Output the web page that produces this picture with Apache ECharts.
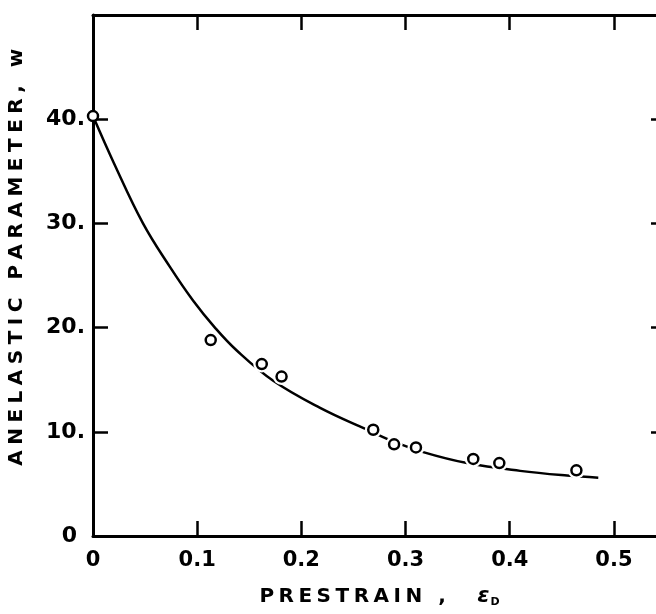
<!DOCTYPE html>
<html>
<head>
<meta charset="utf-8">
<script src="https://cdn.jsdelivr.net/npm/echarts@6/dist/echarts.min.js"></script>
<style>
  html, body { margin: 0; padding: 0; background: #fff; }
  #chart { width: 656px; height: 614px; }
</style>
</head>
<body>
<div id="chart"></div>
<script>
// measured points: prestrain vs anelastic parameter w
const prestrain = [0, 0.113, 0.162, 0.181, 0.269, 0.289, 0.310, 0.365, 0.390, 0.464];
const wValues = [40.3, 18.8, 16.5, 15.3, 10.2, 8.8, 8.5, 7.4, 7.0, 6.3];

// fitted curve
const curveX = [0, 0.02, 0.048, 0.074, 0.096, 0.117, 0.138, 0.173, 0.218, 0.263, 0.285, 0.317, 0.359, 0.41, 0.455, 0.485];
const curveW = [40.3, 35.8, 30.0, 25.8, 22.6, 20.0, 17.8, 14.9, 12.3, 10.2, 9.2, 8.05, 7.0, 6.25, 5.8, 5.6];

const yTicks = ['0', '10.', '20.', '30.', '40.'];
const xName = 'PRESTRAIN ,';
const yName = 'ANELASTIC PARAMETER, w';

const font = 'DejaVu Sans';

// spread letters out a bit (the lettering on the original is wide)
function spaced(str, style) {
  return str.split('').map(c => '{' + style + '|' + c + '}').join('');
}

const myChart = echarts.init(document.getElementById('chart'));

const axisLine = { show: true, onZero: false, lineStyle: { color: '#000', width: 3 } };
const axisTick = { show: true, inside: true, length: 15, lineStyle: { color: '#000', width: 2.5 } };

const points = prestrain.map((x, i) => [x, wValues[i]]);

const option = {
  animation: false,
  backgroundColor: '#fff',
  grid: { left: 93, right: -10, top: 15, bottom: 78, outerBoundsMode: 'none', containLabel: false },
  xAxis: [
    {
      type: 'value',
      min: 0,
      max: 0.55,
      interval: 0.1,
      axisLine: axisLine,
      axisTick: axisTick,
      splitLine: { show: false },
      axisLabel: {
        margin: 14,
        color: '#000',
        fontFamily: font,
        fontWeight: 'bold',
        fontSize: 21,
        formatter: v => (v > 0.52 ? '' : (v === 0 ? '0' : v.toFixed(1)))
      },
      name: spaced(xName, 'l') + '{g| }{e|ε}{s|D}',
      nameLocation: 'middle',
      nameGap: 49,
      nameTextStyle: {
        color: '#000',
        fontFamily: font,
        fontWeight: 'bold',
        fontSize: 20,
        rich: {
          l: { fontFamily: font, fontWeight: 'bold', fontSize: 20, color: '#000', padding: [0, 4.5, 0, 0] },
          g: { fontSize: 20, padding: [0, 20, 0, 0] },
          e: { fontFamily: font, fontStyle: 'italic', fontWeight: 'bold', fontSize: 22, color: '#000' },
          s: { fontFamily: font, fontWeight: 'bold', fontSize: 11, color: '#000', padding: [12, 0, 0, 1] }
        }
      }
    },
    {
      type: 'value',
      position: 'top',
      min: 0,
      max: 0.55,
      interval: 0.1,
      axisLine: axisLine,
      axisTick: axisTick,
      axisLabel: { show: false },
      splitLine: { show: false }
    }
  ],
  yAxis: [
    {
      type: 'value',
      min: 0,
      max: 50,
      interval: 10,
      axisLine: axisLine,
      axisTick: axisTick,
      splitLine: { show: false },
      axisLabel: {
        margin: 8,
        color: '#000',
        fontFamily: font,
        fontWeight: 'bold',
        fontSize: 22,
        formatter: function (v) {
          const s = yTicks[v / 10];
          if (s === undefined) return '';
          return v === 0 ? '{z|' + s + '}' : s;
        },
        rich: {
          z: { fontFamily: font, fontWeight: 'bold', fontSize: 22, color: '#000', padding: [0, 8, 0, 0] }
        }
      },
      name: spaced(yName, 'l'),
      nameLocation: 'middle',
      nameGap: 66,
      nameTextStyle: {
        color: '#000',
        fontFamily: font,
        fontWeight: 'bold',
        fontSize: 20,
        padding: [0, 0, 0, 42],
        rich: {
          l: { fontFamily: font, fontWeight: 'bold', fontSize: 20, color: '#000', padding: [0, 5.5, 0, 0] }
        }
      }
    },
    {
      type: 'value',
      position: 'right',
      min: 0,
      max: 50,
      interval: 10,
      axisLine: axisLine,
      axisTick: axisTick,
      axisLabel: { show: false },
      splitLine: { show: false }
    }
  ],
  series: [
    {
      type: 'line',
      xAxisIndex: 0,
      yAxisIndex: 0,
      smooth: 0.4,
      showSymbol: false,
      lineStyle: { color: '#000', width: 2.5 },
      data: curveX.map((x, i) => [x, curveW[i]]),
      z: 2
    },
    {
      // white halo so the curve breaks around each circle, as in the original
      type: 'scatter',
      xAxisIndex: 0,
      yAxisIndex: 0,
      symbol: 'circle',
      symbolSize: 17,
      itemStyle: { color: '#fff', opacity: 1 },
      data: points.filter(p => p[0] > 0),
      z: 3
    },
    {
      type: 'scatter',
      xAxisIndex: 0,
      yAxisIndex: 0,
      symbol: 'circle',
      symbolSize: 10,
      itemStyle: { color: '#fff', borderColor: '#000', borderWidth: 2.5, opacity: 1 },
      data: points,
      z: 4
    }
  ]
};

myChart.setOption(option);
</script>
</body>
</html>
